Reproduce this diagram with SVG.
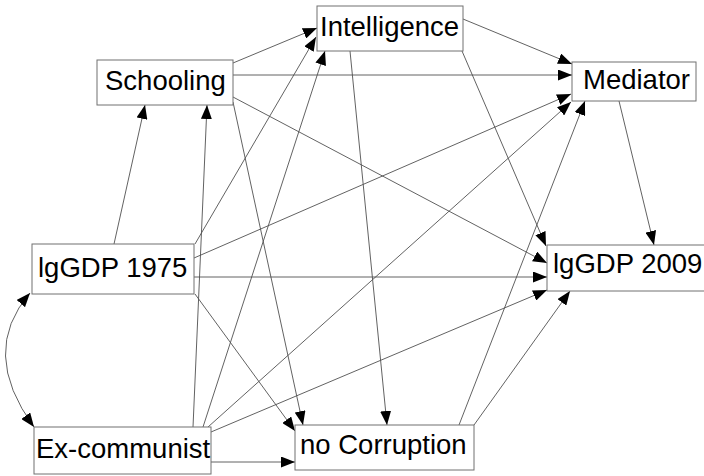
<svg xmlns="http://www.w3.org/2000/svg" width="704" height="476" viewBox="0 0 704 476">
<defs>
<marker id="ah" markerUnits="userSpaceOnUse" markerWidth="14" markerHeight="11" refX="14" refY="5.5" orient="auto-start-reverse" viewBox="0 0 14 11">
<path d="M0,0 L14,5.5 L0,11 z" fill="#000"/>
</marker>
<style>
.box{fill:#fff;stroke:#707070;stroke-width:1}
.lbl{font-family:"Liberation Sans",Arial,sans-serif;font-size:27.5px;fill:#000}
.e{fill:none;stroke:#505050;stroke-width:0.9;marker-end:url(#ah)}
</style>
</defs>
<rect width="704" height="476" fill="#fff"/>
<g id="connectors">
<path class="e" d="M114,244 L145,105"/>
<path class="e" d="M193,427 L207,105"/>
<path class="e" d="M233,63 L317,28"/>
<path class="e" d="M195,244 L316,37"/>
<path class="e" d="M203,427 L325,51"/>
<path class="e" d="M233,75 L572,75"/>
<path class="e" d="M233,97 L547,263"/>
<path class="e" d="M233,102 L303,425"/>
<path class="e" d="M463,19 L572,64"/>
<path class="e" d="M462,51 L546,246"/>
<path class="e" d="M350,51 L387,425"/>
<path class="e" d="M194,258 L571,94"/>
<path class="e" d="M208,427 L571,102"/>
<path class="e" d="M459,425 L585,101"/>
<path class="e" d="M619,101 L654,245"/>
<path class="e" d="M194,277 L547,277"/>
<path class="e" d="M195,294 L295,431"/>
<path class="e" d="M211,462 L295,462"/>
<path class="e" d="M211,432 L547,290"/>
<path class="e" d="M474,425 L570,291"/>
<path class="e" d="M30,293 Q-21,352 34,427" style="marker-start:url(#ah)"/>
</g>
<g id="schooling"><rect class="box" x="97" y="60" width="136" height="45"/><text class="lbl" x="105" y="90">Schooling</text></g>
<g id="intelligence"><rect class="box" x="317" y="6" width="146" height="45"/><text class="lbl" x="320" y="36">Intelligence</text></g>
<g id="mediator"><rect class="box" x="572" y="62" width="124" height="39"/><text class="lbl" x="583" y="89">Mediator</text></g>
<g id="lggdp1975"><rect class="box" x="32" y="244" width="162" height="50"/><text class="lbl" x="38" y="277">lgGDP 1975</text></g>
<g id="lggdp2009"><rect class="box" x="547" y="245" width="165" height="46"/><text class="lbl" x="553" y="273">lgGDP 2009</text></g>
<g id="excommunist"><rect class="box" x="34" y="427" width="177" height="47"/><text class="lbl" x="36" y="458">Ex-communist</text></g>
<g id="nocorruption"><rect class="box" x="295" y="425" width="179" height="45"/><text class="lbl" x="300" y="454">no Corruption</text></g>
</svg>
